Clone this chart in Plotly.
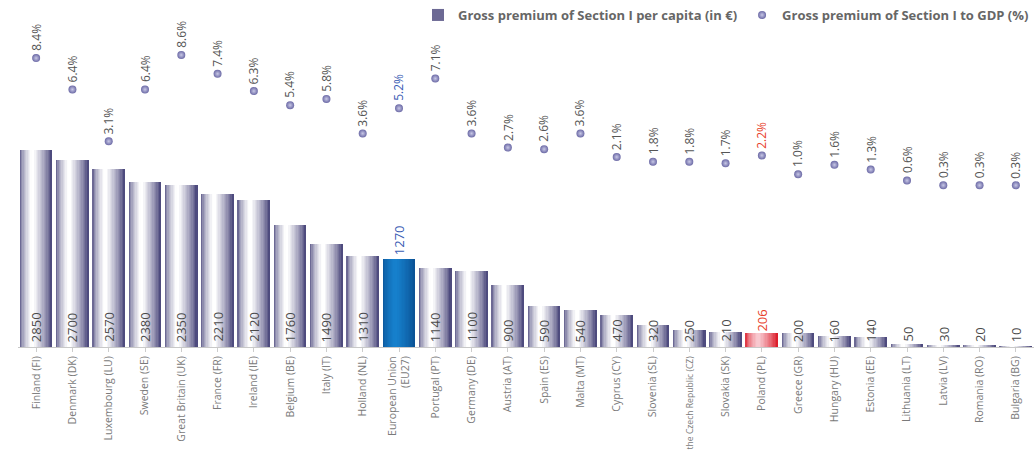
import plotly.graph_objects as go

countries = ["Finland (FI)", "Denmark (DK)", "Luxembourg (LU)", "Sweden (SE)", "Great Britain (UK)",
             "France (FR)", "Ireland (IE)", "Belgium (BE)", "Italy (IT)", "Holland (NL)",
             "European Union<br>(EU27)", "Portugal (PT)", "Germany (DE)", "Austria (AT)", "Spain (ES)",
             "Malta (MT)", "Cyprus (CY)", "Slovenia (SL)", "the Czech Republic (CZ)", "Slovakia (SK)",
             "Poland (PL)", "Greece (GR)", "Hungary (HU)", "Estonia (EE)", "Lithuania (LT)",
             "Latvia (LV)", "Romania (RO)", "Bulgaria (BG)"]
per_capita = [2850, 2700, 2570, 2380, 2350, 2210, 2120, 1760, 1490, 1310,
              1270, 1140, 1100, 900, 590, 540, 470, 320, 250, 210,
              206, 200, 160, 140, 50, 30, 20, 10]
gdp_pct = [8.4, 6.4, 3.1, 6.4, 8.6, 7.4, 6.3, 5.4, 5.8, 3.6,
           5.2, 7.1, 3.6, 2.7, 2.6, 3.6, 2.1, 1.8, 1.8, 1.7,
           2.2, 1.0, 1.6, 1.3, 0.6, 0.3, 0.3, 0.3]
EU = "European Union<br>(EU27)"
PL = "Poland (PL)"

FONT = "Open Sans"
n = len(countries)
idx = list(range(n))

# long labels get a smaller font so they fit under the axis
tick_text = [f'<span style="font-size:8.6px">{c}</span>' if len(c) > 20 and "<br>" not in c else c
             for c in countries]

def mix(c1, c2, t):
    a = [int(c1[i:i+2], 16) for i in (1, 3, 5)]
    b = [int(c2[i:i+2], 16) for i in (1, 3, 5)]
    return "#%02x%02x%02x" % tuple(round(a[k] + (b[k] - a[k]) * t) for k in range(3))

# gradient profile across a bar (cylinder look)
NS = 24
BW = 0.88
step = BW / NS
peak = 0.40
def light(t):
    if t <= peak:
        return min(1.0, (t / peak) ** 0.5 * 1.05)
    return min(1.0, (1 - (t - peak) / (1 - peak)) ** 0.75 * 1.05)

palettes = {
    "normal": ("#3e3a72", "#ffffff"),
    "eu": ("#0a4f92", "#1680cc"),
    "pl": ("#d9101e", "#f8c8cf"),
}

fig = go.Figure()
for k in range(NS):
    t = (k + 0.5) / NS
    L = light(t)
    cols = []
    for c in countries:
        key = "eu" if c == EU else ("pl" if c == PL else "normal")
        dark, lite = palettes[key]
        cols.append(mix(dark, lite, L))
    fig.add_trace(go.Bar(
        x=idx, y=per_capita, width=step * 1.25, offset=-BW / 2 + k * step,
        marker=dict(color=cols, line=dict(width=0)),
        name="Gross premium of Section I per capita (in €)",
        showlegend=(k == 0), hoverinfo="skip", yaxis="y",
    ))

fig.add_trace(go.Scatter(
    x=idx, y=gdp_pct, mode="markers", yaxis="y2",
    marker=dict(size=8, color="#6c6aa6", gradient=dict(type="radial", color="#c8c8e6"),
                line=dict(width=0)),
    name="Gross premium of Section I to GDP (%)",
))

ann = []
for i, (c, v, p) in enumerate(zip(countries, per_capita, gdp_pct)):
    pc = "#3a5cb4" if c == EU else ("#e8402a" if c == PL else "#555555")
    ann.append(dict(x=i, y=p, yref="y2", xref="x", text=f"{p:.1f}%", textangle=-90,
                    showarrow=False, yanchor="bottom", xanchor="center", yshift=5,
                    font=dict(family=FONT, size=12, color=pc)))
    if c == EU:
        ann.append(dict(x=i, y=v, yref="y", xref="x", text=str(v), textangle=-90,
                        showarrow=False, yanchor="bottom", yshift=2,
                        font=dict(family=FONT, size=13, color="#3a5cb4")))
    elif c == PL:
        ann.append(dict(x=i, y=v, yref="y", xref="x", text=str(v), textangle=-90,
                        showarrow=False, yanchor="bottom", yshift=-1,
                        font=dict(family=FONT, size=13, color="#e8402a")))
    else:
        ann.append(dict(x=i, y=0, yref="y", xref="x", text=str(v), textangle=-90,
                        showarrow=False, yanchor="bottom", yshift=3,
                        font=dict(family=FONT, size=13, color="#4a4a4a")))

fig.update_layout(
    width=1034, height=453,
    margin=dict(l=18, r=0, t=0, b=106),
    paper_bgcolor="white", plot_bgcolor="white",
    barmode="overlay", bargap=0,
    font=dict(family=FONT, color="#666666"),
    xaxis=dict(tickmode="array", tickvals=idx, ticktext=tick_text, tickangle=-90,
               range=[-0.5, n - 0.5], showgrid=False, zeroline=False, automargin=False,
               showline=True, linecolor="#c8c8c8", linewidth=1,
               ticks="outside", ticklen=4, tickcolor="#cccccc",
               tickfont=dict(family=FONT, size=10.5, color="#7a7a7a")),
    yaxis=dict(range=[0, 5020], visible=False, showgrid=False, zeroline=False, automargin=False),
    yaxis2=dict(range=[-10, 12.1], overlaying="y", visible=False, showgrid=False,
                zeroline=False, automargin=False),
    legend=dict(orientation="h", x=1, xanchor="right", y=1, yanchor="top",
                bgcolor="rgba(0,0,0,0)", itemwidth=30,
                font=dict(family=FONT, size=13, color="#666666", weight="bold")),
    annotations=ann,
    showlegend=True,
)

fig.write_html("out.html")
